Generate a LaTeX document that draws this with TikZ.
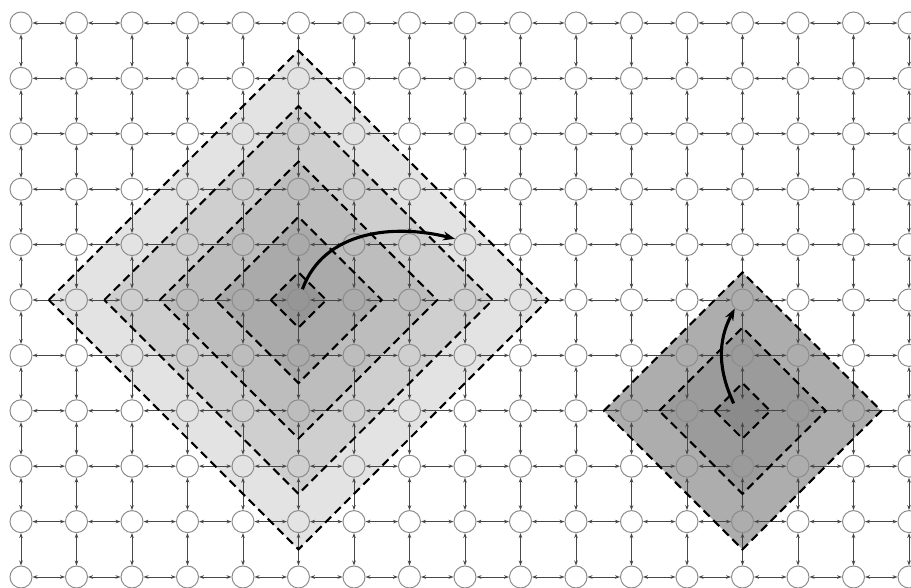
\documentclass[tikz,border=0pt]{standalone}
\usetikzlibrary{arrows.meta,calc}
\pgfdeclarelayer{bg}\pgfdeclarelayer{fg}
\pgfsetlayers{bg,main,fg}
\definecolor{zLa}{HTML}{E3E3E3}
\definecolor{zLb}{HTML}{CFCFCF}
\definecolor{zLc}{HTML}{BDBDBD}
\definecolor{zLd}{HTML}{AAAAAA}
\definecolor{zLe}{HTML}{969696}
\definecolor{zRa}{HTML}{ADADAD}
\definecolor{zRb}{HTML}{9B9B9B}
\definecolor{zRc}{HTML}{8B8B8B}
\begin{document}
\begin{tikzpicture}[x=1pt,y=1pt,
  vert/.style={circle,draw=black!45,line width=1pt,minimum size=22pt,inner sep=0pt},
  link/.style={draw=black!72,line width=0.8pt,{Stealth[length=5pt,width=3.6pt]}-{Stealth[length=5pt,width=3.6pt]}},
  zone/.style={draw=black,line width=2.1pt,dash pattern=on 8.5pt off 5pt},
  bigarrow/.style={line width=3.1pt,-{Stealth[length=12pt,width=9pt]}}]
\useasboundingbox (0,0) rectangle (911,588);
\foreach \c in {0,...,16}{\foreach \r in {0,...,10}{
  \node[vert] (n-\c-\r) at ({21+55.5*\c},{565-55.4*\r}) {};}}
\foreach \c in {0,...,15}{\foreach \r in {0,...,10}{
  \pgfmathtruncatemacro\d{\c+1}
  \draw[link] (n-\c-\r) -- (n-\d-\r);}}
\foreach \c in {0,...,16}{\foreach \r in {0,...,9}{
  \pgfmathtruncatemacro\d{\r+1}
  \draw[link] (n-\c-\r) -- (n-\c-\d);}}
\begin{pgfonlayer}{bg}
\foreach \k/\cl in {4.5/zLa,3.5/zLb,2.5/zLc,1.5/zLd,0.5/zLe}{
  \fill[\cl] ($(n-5-5)+({-\k*55.5},0)$) -- ($(n-5-5)+(0,{\k*55.4})$) -- ($(n-5-5)+({\k*55.5},0)$) -- ($(n-5-5)+(0,{-\k*55.4})$) -- cycle;}
\foreach \k/\cl in {2.5/zRa,1.5/zRb,0.5/zRc}{
  \fill[\cl] ($(n-13-7)+({-\k*55.5},0)$) -- ($(n-13-7)+(0,{\k*55.4})$) -- ($(n-13-7)+({\k*55.5},0)$) -- ($(n-13-7)+(0,{-\k*55.4})$) -- cycle;}
\end{pgfonlayer}
\begin{pgfonlayer}{fg}
\foreach \k in {4.5,3.5,2.5,1.5,0.5}{
  \draw[zone] ($(n-5-5)+({-\k*55.5},0)$) -- ($(n-5-5)+(0,{\k*55.4})$) -- ($(n-5-5)+({\k*55.5},0)$) -- ($(n-5-5)+(0,{-\k*55.4})$) -- cycle;}
\foreach \k in {2.5,1.5,0.5}{
  \draw[zone] ($(n-13-7)+({-\k*55.5},0)$) -- ($(n-13-7)+(0,{\k*55.4})$) -- ($(n-13-7)+({\k*55.5},0)$) -- ($(n-13-7)+(0,{-\k*55.4})$) -- cycle;}
\draw[bigarrow] (n-5-5.70) to[out=70,in=166] (n-8-4.150);
\draw[bigarrow] (n-13-7.140) to[out=115,in=242] (n-13-5.228);
\end{pgfonlayer}
\end{tikzpicture}
\end{document}
